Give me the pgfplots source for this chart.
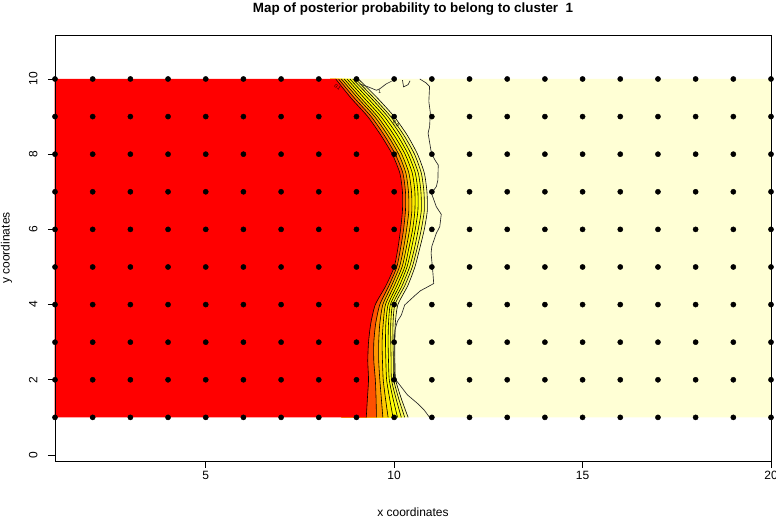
\documentclass[border=0pt]{standalone}
\usepackage{pgfplots}
\usepackage{pgfplotstable}
\pgfplotsset{compat=1.18}
\usepackage{fontspec}
\setmainfont{Liberation Sans}
\definecolor{lyel}{HTML}{FFFFD5}
\definecolor{k1}{HTML}{FF0000}
\definecolor{k2}{HTML}{FF5000}
\definecolor{k3}{HTML}{FF9800}
\definecolor{k4}{HTML}{FFC800}
\definecolor{k5}{HTML}{FFEA00}
\definecolor{k6}{HTML}{FFFF00}
\definecolor{k7}{HTML}{FFFF20}
\definecolor{k8}{HTML}{FFFF50}
\definecolor{k9}{HTML}{FFFF90}

\pgfplotstableread{
y c1 c2 c3 c4 c5 c6 c7 c8 c9
10 8.45 8.525 8.60 8.675 8.75 8.825 8.90 8.975 9.05
9.5 8.85 8.94 9.03 9.11 9.20 9.29 9.38 9.46 9.55
9 9.30 9.39 9.48 9.56 9.65 9.74 9.83 9.91 10.00
8.5 9.65 9.74 9.83 9.91 10.00 10.09 10.18 10.26 10.35
8 9.95 10.03 10.12 10.20 10.29 10.37 10.45 10.54 10.62
7.5 10.15 10.23 10.31 10.39 10.48 10.56 10.64 10.72 10.80
7 10.22 10.30 10.38 10.46 10.55 10.63 10.71 10.79 10.87
6.5 10.22 10.30 10.39 10.47 10.55 10.63 10.72 10.80 10.88
6 10.17 10.25 10.33 10.41 10.49 10.56 10.64 10.72 10.80
5.5 10.10 10.17 10.25 10.32 10.39 10.46 10.54 10.61 10.68
5 10.00 10.07 10.14 10.21 10.28 10.34 10.41 10.48 10.55
4.5 9.78 9.86 9.93 10.00 10.07 10.14 10.21 10.28 10.36
4 9.50 9.62 9.70 9.77 9.84 9.90 9.96 10.02 10.10
3.5 9.38 9.51 9.62 9.71 9.78 9.85 9.91 9.97 10.03
3 9.32 9.46 9.59 9.68 9.77 9.84 9.91 9.97 10.02
2.5 9.30 9.46 9.59 9.69 9.78 9.85 9.92 9.98 10.02
2 9.32 9.50 9.62 9.71 9.80 9.87 9.93 9.99 10.04
1.5 9.29 9.52 9.66 9.77 9.88 9.97 10.05 10.12 10.19
1 9.26 9.53 9.70 9.84 9.97 10.09 10.19 10.28 10.37
}\cont

\begin{document}
\begin{tikzpicture}
\path[use as bounding box] (-55pt,-57pt) rectangle (721pt,461pt);
\begin{axis}[
  at={(0pt,0pt)}, anchor=south west,
  scale only axis, width=716pt, height=426pt,
  xmin=1, xmax=20, ymin=-0.16, ymax=11.17,
  xtick={5,10,15,20}, ytick={0,2,4,6,8,10},
  tick pos=left, tick align=outside, major tick length=7pt,
  tick style={black, line width=0.6pt},
  axis line style={black, line width=0.8pt},
  axis on top, clip=false,
  /pgf/number format/assume math mode=true,
  ticklabel style={font=\fontsize{12}{14}\selectfont},
  yticklabel style={rotate=90, anchor=south, yshift=7pt},
  xlabel={x coordinates}, ylabel={y coordinates},
  label style={font=\fontsize{12}{14}\selectfont},
  xlabel style={at={(axis description cs:0.5,-0.1197)}, anchor=center},
  ylabel style={at={(axis description cs:-0.0677,0.5)}, anchor=center},
  title={Map of posterior probability to belong to cluster\ \ 1},
  title style={at={(axis description cs:0.5,1.061)}, anchor=center, yshift=-6pt, font=\bfseries\fontsize{13.4}{16}\selectfont},
]
% background image region (light yellow part)
\addplot[draw=none, fill=lyel] coordinates {(9.1,1) (20,1) (20,10) (8.3,10)} -- cycle;
% filled bands
\addplot[draw=none, fill=k9] table[x=c9,y=y]{\cont} -- (axis cs:8.6,1) -- (axis cs:8.3,10) -- cycle;
\addplot[draw=none, fill=k8] table[x=c8,y=y]{\cont} -- (axis cs:8.6,1) -- (axis cs:8.3,10) -- cycle;
\addplot[draw=none, fill=k7] table[x=c7,y=y]{\cont} -- (axis cs:8.6,1) -- (axis cs:8.3,10) -- cycle;
\addplot[draw=none, fill=k6] table[x=c6,y=y]{\cont} -- (axis cs:8.6,1) -- (axis cs:8.3,10) -- cycle;
\addplot[draw=none, fill=k5] table[x=c5,y=y]{\cont} -- (axis cs:8.6,1) -- (axis cs:8.3,10) -- cycle;
\addplot[draw=none, fill=k4] table[x=c4,y=y]{\cont} -- (axis cs:8.6,1) -- (axis cs:8.3,10) -- cycle;
\addplot[draw=none, fill=k3] table[x=c3,y=y]{\cont} -- (axis cs:8.6,1) -- (axis cs:8.3,10) -- cycle;
\addplot[draw=none, fill=k2] table[x=c2,y=y]{\cont} -- (axis cs:8.6,1) -- (axis cs:8.3,10) -- cycle;
\addplot[draw=none, fill=k1] table[x=c1,y=y]{\cont} -- (axis cs:0.99,1) -- (axis cs:0.99,10) -- cycle;
% contour lines
\foreach \c in {c1,c2,c3,c4,c5,c6,c7,c8,c9}{
  \addplot[black, line width=0.6pt, smooth, tension=0.4] table[x=\c,y=y]{\cont};
}
% level-1 contour (wavy)
\addplot[black!85, line width=0.65pt] coordinates {
(10.68,10.0) (10.84,9.9) (10.94,9.8) (10.92,9.4) (10.96,9.1) (10.94,8.73) (10.90,8.56)
(10.99,8.02) (11.08,7.85) (11.17,7.71) (11.16,7.31) (11.12,7.14) (10.99,6.96)
(11.12,6.60) (11.25,6.40) (11.21,6.07) (11.12,5.90) (11.0,5.55) (10.98,5.37)
(11.03,4.82) (11.05,4.56) (10.87,4.46) (10.70,4.37) (10.55,4.24) (10.42,4.12)
(10.28,3.99) (10.19,3.72) (10.09,3.56) (10.03,3.36) (10.01,3.19) (10.0,2.6) (10.01,2.04)
(10.05,1.99) (10.35,1.6) (10.62,1.37) (10.80,1.19) (10.94,1.0)};
\addplot[black!85, line width=0.65pt] coordinates {
(9.08,9.87) (9.31,9.79) (9.53,9.70) (9.62,9.74) (9.79,9.87) (9.93,9.94)};
\addplot[black!85, line width=0.65pt] coordinates {
(10.22,9.97) (10.25,9.79) (10.37,9.85) (10.42,9.95)};
% contour labels
\node[font=\fontsize{5}{5}\selectfont, rotate=-45] at (axis cs:8.5,9.78) {0.1};
\node[font=\fontsize{5}{5}\selectfont, rotate=-45] at (axis cs:10.05,8.8) {0.9};
\node[font=\fontsize{5}{5}\selectfont] at (axis cs:9.62,9.66) {1};
% grid points
\addplot[only marks, mark=*, mark size=2.6pt, black] coordinates {
(1,1)(2,1)(3,1)(4,1)(5,1)(6,1)(7,1)(8,1)(9,1)(10,1)(11,1)(12,1)(13,1)(14,1)(15,1)(16,1)(17,1)(18,1)(19,1)(20,1)
(1,2)(2,2)(3,2)(4,2)(5,2)(6,2)(7,2)(8,2)(9,2)(10,2)(11,2)(12,2)(13,2)(14,2)(15,2)(16,2)(17,2)(18,2)(19,2)(20,2)
(1,3)(2,3)(3,3)(4,3)(5,3)(6,3)(7,3)(8,3)(9,3)(10,3)(11,3)(12,3)(13,3)(14,3)(15,3)(16,3)(17,3)(18,3)(19,3)(20,3)
(1,4)(2,4)(3,4)(4,4)(5,4)(6,4)(7,4)(8,4)(9,4)(10,4)(11,4)(12,4)(13,4)(14,4)(15,4)(16,4)(17,4)(18,4)(19,4)(20,4)
(1,5)(2,5)(3,5)(4,5)(5,5)(6,5)(7,5)(8,5)(9,5)(10,5)(11,5)(12,5)(13,5)(14,5)(15,5)(16,5)(17,5)(18,5)(19,5)(20,5)
(1,6)(2,6)(3,6)(4,6)(5,6)(6,6)(7,6)(8,6)(9,6)(10,6)(11,6)(12,6)(13,6)(14,6)(15,6)(16,6)(17,6)(18,6)(19,6)(20,6)
(1,7)(2,7)(3,7)(4,7)(5,7)(6,7)(7,7)(8,7)(9,7)(10,7)(11,7)(12,7)(13,7)(14,7)(15,7)(16,7)(17,7)(18,7)(19,7)(20,7)
(1,8)(2,8)(3,8)(4,8)(5,8)(6,8)(7,8)(8,8)(9,8)(10,8)(11,8)(12,8)(13,8)(14,8)(15,8)(16,8)(17,8)(18,8)(19,8)(20,8)
(1,9)(2,9)(3,9)(4,9)(5,9)(6,9)(7,9)(8,9)(9,9)(10,9)(11,9)(12,9)(13,9)(14,9)(15,9)(16,9)(17,9)(18,9)(19,9)(20,9)
(1,10)(2,10)(3,10)(4,10)(5,10)(6,10)(7,10)(8,10)(9,10)(10,10)(11,10)(12,10)(13,10)(14,10)(15,10)(16,10)(17,10)(18,10)(19,10)(20,10)
};
\end{axis}
\end{tikzpicture}
\end{document}
